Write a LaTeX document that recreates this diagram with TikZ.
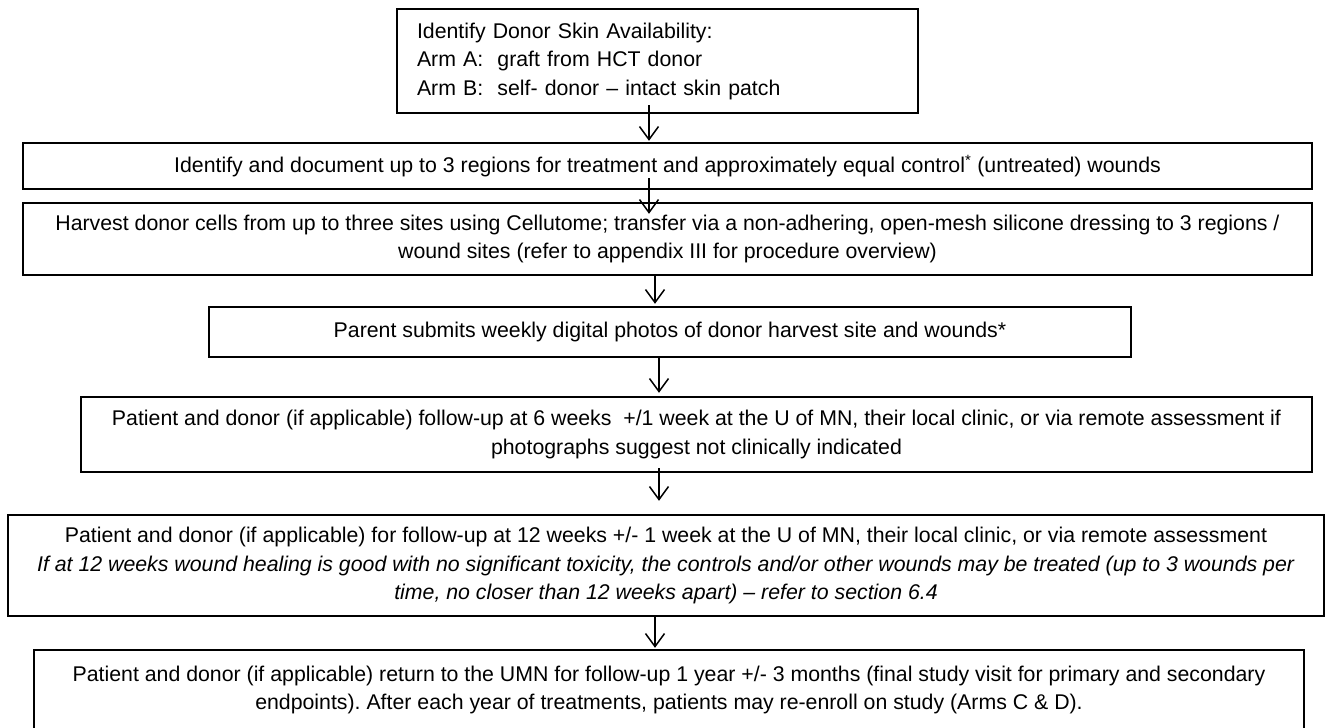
\documentclass[tikz,border=0pt]{standalone}
\usepackage{fontspec}
\setmainfont{Liberation Sans}
\usetikzlibrary{arrows.meta}

\begin{document}
\begin{tikzpicture}[x=1pt,y=-1pt,
  >={Straight Barb[length=13pt,width=19pt,line width=1.5pt]},
  box/.style={rectangle,draw,line width=2.4pt,inner sep=0pt,align=center,
              font=\fontsize{21.3}{28.5}\selectfont\frenchspacing},
  arr/.style={->,line width=1.5pt}
]
  \useasboundingbox (0,0) rectangle (1325,728);
  \clip (0,0) rectangle (1325,728);

  % ---------- cajas del flujo ----------
  \node[box,minimum width=521,minimum height=104,text width=481,align=left]
    (avail) at (657.5,61)
    {Identify Donor Skin Availability:\\
     Arm A:\ \ graft from HCT donor\\
     Arm B:\ \ self- donor -- intact skin patch};
  \node[box,minimum width=1289,minimum height=46] (regions) at (667.5,166)
    {Identify and document up to 3 regions for treatment and approximately equal control\textsuperscript{*} (untreated) wounds};
  \node[box,minimum width=1289,minimum height=72] (harvest) at (667.5,239)
    {Harvest donor cells from up to three sites using Cellutome; transfer via a non-adhering, open-mesh silicone dressing to 3 regions /\\
     wound sites (refer to appendix III for procedure overview)};
  \node[box,minimum width=922,minimum height=50] (photos) at (670,332)
    {Parent submits weekly digital photos of donor harvest site and wounds*};
  \node[box,minimum width=1231,minimum height=75] (wk6) at (696.5,434.5)
    {Patient and donor (if applicable) follow-up at 6 weeks\ \ +/1 week at the U of MN, their local clinic, or via remote assessment if\\
     photographs suggest not clinically indicated};
  \node[box,minimum width=1316,minimum height=101] (wk12) at (666,565.5)
    {Patient and donor (if applicable) for follow-up at 12 weeks +/- 1 week at the U of MN, their local clinic, or via remote assessment\\
     \textit{If at 12 weeks wound healing is good with no significant toxicity, the controls and/or other wounds may be treated (up to 3 wounds per}\\
     \textit{time, no closer than 12 weeks apart) -- refer to section 6.4}};
  \node[box,minimum width=1270,minimum height=80] (yr1) at (669,690)
    {Patient and donor (if applicable) return to the UMN for follow-up 1 year +/- 3 months (final study visit for primary and secondary\\
     endpoints). After each year of treatments, patients may re-enroll on study (Arms C \& D).};

  % ---------- flechas entre cajas ----------
  \draw[arr] ([xshift=-8.5pt,yshift=9pt]avail.south) -- ([xshift=-18.5pt,yshift=1pt]regions.north);
  \draw[arr] ([xshift=-18.5pt,yshift=12pt]regions.south) -- ([xshift=-18.5pt,yshift=-12pt]harvest.north);
  \draw[arr] ([xshift=-12.5pt,yshift=1pt]harvest.south) -- ([xshift=-15pt,yshift=2pt]photos.north);
  \draw[arr] ([xshift=-11pt]photos.south) -- ([xshift=-37.5pt,yshift=3pt]wk6.north);
  \draw[arr] ([xshift=-37.5pt,yshift=5pt]wk6.south) -- ([xshift=-7pt,yshift=13pt]wk12.north);
  \draw[arr] ([xshift=-11pt]wk12.south) -- ([xshift=-14pt,yshift=1pt]yr1.north);
\end{tikzpicture}
\end{document}
